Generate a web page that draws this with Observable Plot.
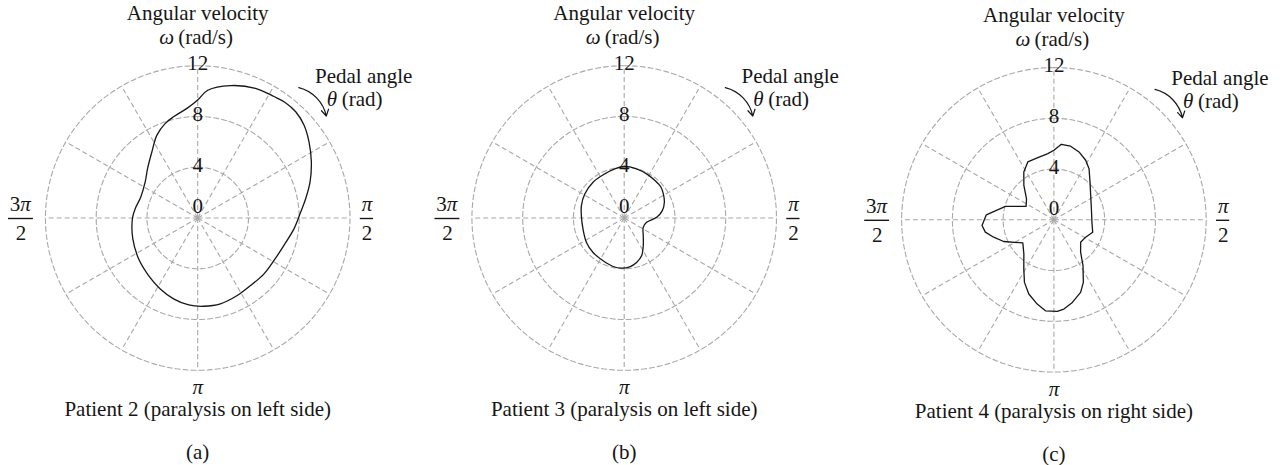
<!DOCTYPE html>
<html>
<head>
<meta charset="utf-8">
<script src="https://cdn.jsdelivr.net/npm/d3@7"></script>
<script src="https://cdn.jsdelivr.net/npm/@observablehq/plot@0.6"></script>
<style>
html, body { margin: 0; padding: 0; background: #fff; }
#root { position: relative; width: 1282px; height: 465px; overflow: hidden; background: #fff; }
#root > svg { position: absolute; top: 0; overflow: visible; }
</style>
</head>
<body>
<div id="root"></div>
<script>
// ---------- data ----------
const ringValues = [4, 8, 12];
const tickValues = [4, 8, 12];
const tickLabels = ["4", "8", "12"];
const zeroLabel = ["0"];
const spokeAngles = [0, 30, 60, 90, 120, 150, 180, 210, 240, 270, 300, 330];
const axisTitle = ["Angular velocity"];
const omegaSymbol = ["ω"];
const omegaUnit = ["(rad/s)"];
const pedalTitle = ["Pedal angle"];
const thetaSymbol = ["θ"];
const thetaUnit = ["(rad)"];
const panelTitles = [
  "Patient 2 (paralysis on left side)",
  "Patient 3 (paralysis on left side)",
  "Patient 4 (paralysis on right side)"
];
const panelLetters = ["(a)", "(b)", "(c)"];

// Patient 2: pedal angle (deg, clockwise from top) and angular velocity (rad/s)
const thetaA = [0, 4.5, 13.9, 24.0, 32.1, 37.1, 42.7, 48.8, 55.6, 63.7, 72.2, 79.8, 86.7, 96.3, 107.6, 119.1, 130.1, 142.0, 153.0, 165.2, 176.1, 185.9, 196.6, 207.8, 220.5, 235.4, 252.3, 270.0, 278.5, 290.3, 304.5, 314.6, 325.3, 333.8, 341.1, 346.6, 354.4];
const omegaA = [9.30, 10.10, 10.75, 11.19, 11.30, 11.42, 11.39, 11.13, 10.63, 9.99, 9.30, 8.65, 8.13, 7.64, 7.13, 6.88, 6.83, 6.76, 6.86, 7.00, 6.97, 6.89, 6.65, 6.32, 5.96, 5.66, 5.37, 5.14, 4.98, 4.78, 5.02, 5.55, 6.34, 7.28, 7.88, 8.20, 8.68];

// Patient 3
const thetaB = [0, 14.1, 26.9, 39.4, 50.1, 58.4, 68.6, 79.1, 88.8, 101.0, 116.2, 132.9, 145.5, 155.3, 164.5, 173.4, 183.1, 192.8, 206.2, 222.1, 237.1, 255.0, 273.1, 286.1, 301.4, 319.0, 336.3, 349.2];
const omegaB = [4.06, 3.99, 3.90, 3.82, 3.78, 3.62, 3.40, 3.06, 2.56, 1.80, 1.67, 2.05, 2.65, 3.28, 3.64, 3.87, 3.96, 3.92, 3.76, 3.66, 3.54, 3.36, 3.38, 3.51, 3.64, 3.74, 3.80, 3.94];

// Patient 4
const thetaC = [0, 5.6, 12.8, 20.3, 28.1, 34.5, 43.7, 56.4, 73.6, 94.5, 107.7, 118.7, 130.0, 140.5, 147.6, 154.8, 159.8, 167.4, 173.6, 177.9, 185.3, 191.2, 198.7, 205.2, 211.5, 221.4, 233.4, 246.6, 253.9, 259.8, 265.5, 274.2, 285.4, 295.7, 307.5, 318.9, 327.8, 335.7, 344.9, 354.8];
const omegaC = [5.48, 5.98, 5.95, 5.70, 5.32, 4.89, 4.12, 3.48, 3.08, 3.01, 3.21, 2.85, 2.75, 3.31, 4.28, 5.45, 6.09, 6.67, 7.08, 7.22, 7.20, 6.77, 6.17, 5.45, 4.54, 3.58, 3.05, 4.31, 4.94, 5.49, 5.68, 5.34, 3.96, 2.43, 2.72, 3.60, 4.45, 5.00, 5.05, 5.24];

// ---------- layout ----------
const panels = [
  {left: 0,   width: 427, cx: 197.2,  cy: 217.5, theta: thetaA, omega: omegaA, curve: "catmull-rom-closed"},
  {left: 427, width: 427, cx: 623.7,  cy: 217.5, theta: thetaB, omega: omegaB, curve: "catmull-rom-closed"},
  {left: 854, width: 428, cx: 1053.4, cy: 219.3, theta: thetaC, omega: omegaC, curve: "linear-closed"}
];
const K = 12.69;           // px per rad/s
const RMAX = 12;
const FS = 21;
const FONT = "Liberation Serif, Times New Roman, serif";
const GRID = "#a8a8a8";
const INK = "#161616";

const rad = (d) => d * Math.PI / 180;
const px = (deg, r) => r * Math.sin(rad(deg));
const py = (deg, r) => r * Math.cos(rad(deg));

function makePanel(p, i) {
  const cx = p.cx - p.left, cy = p.cy, R = RMAX * K;
  const series = p.theta.map((t, j) => ({t, w: p.omega[j]}));
  const ringPts = ringValues.flatMap((r) => d3.range(0, 360, 2).map((a) => ({r, a})));
  const one = [0];
  const txt = (data, o) => Plot.text(data, {x: 0, y: 0, text: (d) => d, fontSize: FS, fill: INK, ...o});

  return Plot.plot({
    width: p.width,
    height: 465,
    margin: 0,
    x: {domain: [-RMAX, RMAX], range: [cx - R, cx + R], axis: null},
    y: {domain: [-RMAX, RMAX], range: [cy + R, cy - R], axis: null},
    style: {fontFamily: FONT, background: "transparent", overflow: "visible"},
    marks: [
      // grid rings
      Plot.line(ringPts, {
        x: (d) => px(d.a, d.r), y: (d) => py(d.a, d.r), z: "r",
        curve: "linear-closed", stroke: GRID, strokeWidth: 1.1, strokeDasharray: "5,3"
      }),
      // spokes
      Plot.link(spokeAngles, {
        x1: 0, y1: 0, x2: (a) => px(a, RMAX), y2: (a) => py(a, RMAX),
        stroke: GRID, strokeWidth: 1.1, strokeDasharray: "5,3"
      }),
      // data curve
      Plot.line(series, {
        x: (d) => px(d.t, d.w), y: (d) => py(d.t, d.w),
        curve: p.curve, stroke: INK, strokeWidth: 1.3
      }),
      // radial tick labels
      Plot.text(tickValues, {x: 0, y: (d) => d, text: (d, j) => tickLabels[j], dy: -2, fontSize: FS, fill: INK}),
      txt(zeroLabel, {dy: -12}),
      // axis titles
      txt(axisTitle, {dy: -204.5}),
      txt(omegaSymbol, {dx: -23.5, dy: -180.5, textAnchor: "end", fontStyle: "italic"}),
      txt(omegaUnit, {dx: -19.5, dy: -180.5, textAnchor: "start"}),
      txt(pedalTitle, {dx: 166, dy: -141.5}),
      txt(thetaSymbol, {dx: 139.5, dy: -118.5, textAnchor: "end", fontStyle: "italic"}),
      txt(thetaUnit, {dx: 144, dy: -118.5, textAnchor: "start"}),
      // direction arrow
      Plot.arrow(one, {
        x1: px(37.8, 13.0), y1: py(37.8, 13.0), x2: px(51.6, 12.93), y2: py(51.6, 12.93),
        bend: 32, stroke: INK, strokeWidth: 1.2, headLength: 9
      }),
      // angle label pi/2
      txt(["π"], {dx: 169.3, dy: -13.5, fontStyle: "italic"}),
      Plot.ruleY([0], {x1: 162.6 / K, x2: 175.8 / K, dy: 0.5, stroke: INK, strokeWidth: 1.4}),
      txt(["2"], {dx: 169.3, dy: 15}),
      // 3pi/2
      txt(["3"], {dx: -177.5, dy: -13.5, textAnchor: "end"}),
      txt(["π"], {dx: -177.5, dy: -13.5, textAnchor: "start", fontStyle: "italic"}),
      Plot.ruleY([0], {x1: -189.2 / K, x2: -164.3 / K, dy: 0.5, stroke: INK, strokeWidth: 1.4}),
      txt(["2"], {dx: -176.7, dy: 15}),
      // pi (bottom)
      txt(["π"], {dx: 0, dy: 169.5, fontStyle: "italic"}),
      // captions
      txt([panelTitles[i]], {dy: 191.5}),
      txt([panelLetters[i]], {dy: 234.5})
    ]
  });
}

const root = document.getElementById("root");
panels.forEach((p, i) => {
  const svg = makePanel(p, i);
  svg.style.left = p.left + "px";
  root.appendChild(svg);
});
</script>
</body>
</html>
